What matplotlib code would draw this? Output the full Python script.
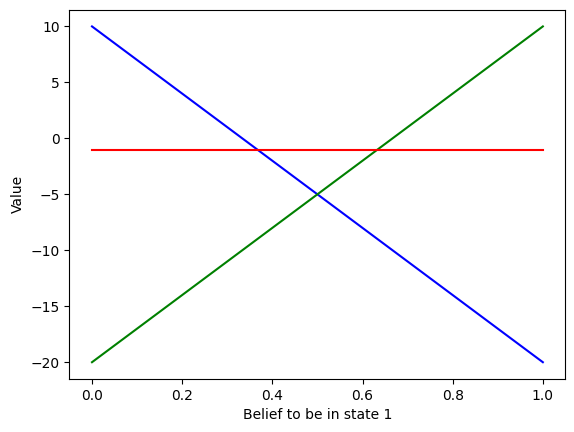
import matplotlib
matplotlib.use("Agg")
import matplotlib.pyplot as plt

belief = [0.0, 1.0]
value_blue = [10, -20]
value_green = [-20, 10]
value_red = [-1, -1]

fig = plt.figure(figsize=(5.74, 4.32), dpi=100)
ax = fig.add_axes([0.121, 0.1227, 0.864, 0.855])
ax.plot(belief, value_blue, color="blue")
ax.plot(belief, value_green, color="green")
ax.plot(belief, value_red, color="red")
ax.set_xlabel("Belief to be in state 1")
ax.set_ylabel("Value")
fig.savefig("out.png", dpi=100)
